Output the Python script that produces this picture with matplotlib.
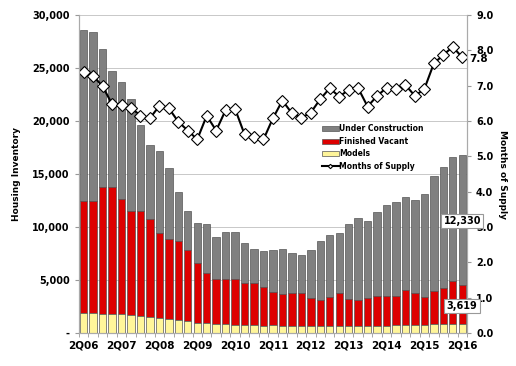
import matplotlib
matplotlib.use("Agg")
import matplotlib.pyplot as plt
from matplotlib.ticker import FuncFormatter, FixedLocator
import numpy as np

plt.rcParams['font.family'] = ['DejaVu Sans']
plt.rcParams['font.weight'] = 'bold'

# quarters 2Q06 .. 2Q16
quarters = ["%dQ%02d" % (q, y) for y in range(6, 17) for q in (1, 2, 3, 4)][1:42]
tick_labels = ["2Q%02d" % y for y in range(6, 17)]

models = [1860, 1860, 1800, 1800, 1770, 1700, 1600, 1500, 1430, 1360,
          1240, 1100, 980, 910, 860, 830, 790, 770, 750, 700,
          720, 700, 680, 620, 650, 650, 680, 680, 680, 680,
          700, 700, 700, 720, 750, 750, 780, 820, 820, 850, 880]
finished_vacant = [10590, 10620, 11940, 11940, 10840, 9810, 9910, 9220, 8030, 7480,
                   7470, 6730, 5590, 4720, 4260, 4290, 4270, 3920, 3940, 3610,
                   3180, 2950, 3120, 3120, 2620, 2460, 2740, 3060, 2530, 2430,
                   2600, 2760, 2760, 2800, 3310, 3050, 2640, 3110, 3390, 4080, 3619]
under_construction = [16130, 15880, 13080, 11010, 11040, 10540, 8140, 7020, 7740, 6700,
                      4620, 3710, 3780, 4620, 3970, 4440, 4480, 3830, 3230, 3430,
                      3930, 4270, 3750, 3650, 4560, 5540, 5830, 5690, 7040, 7770,
                      7300, 7960, 8620, 8870, 8740, 8750, 9720, 10910, 11480, 11700, 12330]
months_supply = [7.40, 7.28, 6.98, 6.48, 6.45, 6.38, 6.15, 6.08, 6.43, 6.36,
                 5.98, 5.73, 5.48, 6.15, 5.73, 6.31, 6.34, 5.62, 5.56, 5.48,
                 6.08, 6.58, 6.22, 6.09, 6.24, 6.62, 6.93, 6.69, 6.88, 6.93,
                 6.41, 6.71, 6.94, 6.91, 7.02, 6.71, 6.91, 7.63, 7.87, 8.10, 7.80]

x = np.arange(len(quarters))
m = np.array(models)
fv = np.array(finished_vacant)
uc = np.array(under_construction)

fig = plt.figure(figsize=(5.16, 3.66), dpi=100)
ax = fig.add_axes([0.153, 0.090, 0.752, 0.869])
ax2 = ax.twinx()
ax.set_zorder(1)
ax2.set_zorder(2)
ax.patch.set_visible(False)

w = 0.78
ec = '#555555'
ax.bar(x, uc, w, bottom=m + fv, color='#808080', edgecolor=ec, linewidth=0.5,
       label='Under Construction')
ax.bar(x, fv, w, bottom=m, color='#DD0000', edgecolor=ec, linewidth=0.5,
       label='Finished Vacant')
ax.bar(x, m, w, color='#FFF59A', edgecolor=ec, linewidth=0.5, label='Models')

ax2.plot(x, months_supply, color='black', lw=1.5, marker='D', ms=6.3,
         mfc='white', mec='black', mew=0.8, label='Months of Supply')

ax.set_xlim(-0.5, len(x) - 0.5)
ax.set_ylim(0, 30000)
ax2.set_ylim(0, 9)
ax.set_yticks(range(0, 30001, 5000))
ax.yaxis.set_major_formatter(FuncFormatter(lambda v, p: '-' if v == 0 else '{:,.0f}'.format(v)))
ax2.set_yticks(np.arange(0, 9.01, 1))
ax2.yaxis.set_major_formatter(FuncFormatter(lambda v, p: '%.1f' % v))
ax.grid(axis='y', color='#C8C8C8', lw=0.7)
ax.set_axisbelow(True)

ax.set_xticks(x[::4])
ax.set_xticklabels(tick_labels)
ax.xaxis.set_minor_locator(FixedLocator(np.arange(-0.5, len(x), 1)))
ax.tick_params(axis='x', which='major', length=0, labelsize=7.5, pad=5)
ax.tick_params(axis='x', which='minor', length=3, color='#999999')
ax.tick_params(axis='y', length=3, color='#999999', labelsize=7)
ax2.tick_params(axis='y', length=3, color='#999999', labelsize=7)

for a in (ax, ax2):
    a.spines['top'].set_visible(False)
    for s in ('left', 'right', 'bottom'):
        a.spines[s].set_color('#AAAAAA')

ax.set_ylabel('Housing Inventory', fontsize=6.5, fontweight='bold', labelpad=8)
ax2.set_ylabel('Months of Supply', fontsize=6.5, fontweight='bold', rotation=-90, labelpad=10)

h1, l1 = ax.get_legend_handles_labels()
h2, l2 = ax2.get_legend_handles_labels()
leg = ax2.legend(h1 + h2, l1 + l2, loc='upper left', bbox_to_anchor=(0.61, 0.675),
                 fontsize=5.5, frameon=True, fancybox=False, edgecolor='none',
                 facecolor='white', framealpha=1, handlelength=2.2, handleheight=0.6,
                 handletextpad=0.1, labelspacing=0.45, borderpad=0.3, markerscale=0.35)

box = dict(boxstyle='square,pad=0.25', fc='white', ec='#999999', lw=0.8)
last = len(x) - 1
ax2.text(last, 10570 * 9 / 30000, '{:,}'.format(under_construction[-1]), ha='center', va='center',
         fontsize=7, fontweight='bold', bbox=box, zorder=5)
ax2.text(last, 2550 * 9 / 30000, '{:,}'.format(finished_vacant[-1]), ha='center', va='center',
         fontsize=7, fontweight='bold', bbox=box, zorder=5)
ax2.annotate('%.1f' % months_supply[-1], (last, months_supply[-1]), xytext=(5, -1),
             textcoords='offset points', ha='left', va='center', fontsize=7.5,
             fontweight='bold', annotation_clip=False)

fig.savefig('out.png', dpi=100)
